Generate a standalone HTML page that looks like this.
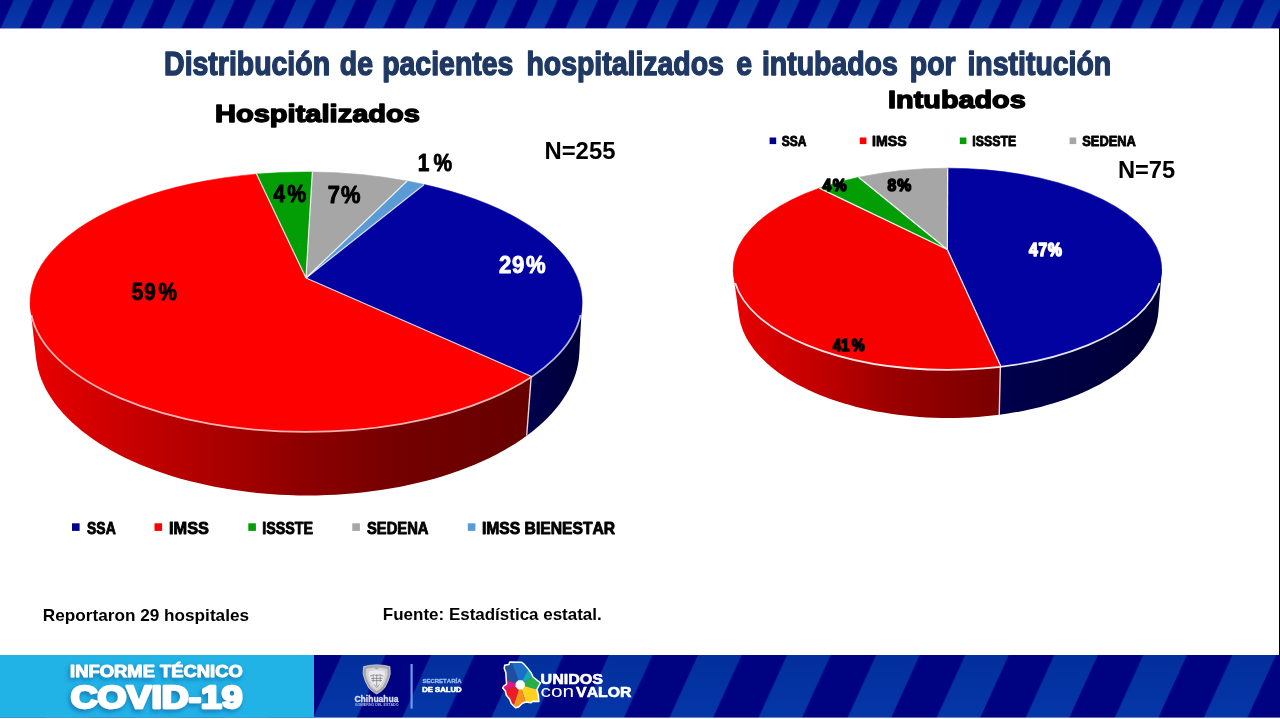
<!DOCTYPE html>
<html lang="es"><head><meta charset="utf-8"><title>Distribución de pacientes hospitalizados e intubados por institución</title>
<style>
html,body{margin:0;padding:0;background:#fff;}
body{width:1280px;height:719px;overflow:hidden;position:relative;font-family:"Liberation Sans",sans-serif;}
svg{position:absolute;left:0;top:0;display:block;font-family:"Liberation Sans",sans-serif;font-kerning:none}
text{white-space:pre;font-kerning:none}
</style></head><body>
<svg width="1280" height="719" viewBox="0 0 1280 719">
<defs>
<filter id="sh" x="-10%" y="-20%" width="120%" height="150%"><feDropShadow dx="-1.5" dy="2.5" stdDeviation="2.2" flood-color="#0a4a8a" flood-opacity="0.55"/></filter>
<linearGradient id="lg1" x1="0" y1="0" x2="0" y2="28" gradientUnits="userSpaceOnUse"><stop offset="0" stop-color="#03309e"/><stop offset="1" stop-color="#0a37ab"/></linearGradient>
<pattern id="st1" width="40.35" height="29" patternUnits="userSpaceOnUse" patternTransform="translate(0.7,0)">
<rect width="41" height="29" fill="#000084"/>
<path d="M0,28 L13,0 L32.4,0 L19.4,28Z M40.35,28 L53.35,0 L72.75,0 L59.75,28Z M-40.35,28 L-27.35,0 L-7.95,0 L-20.95,28Z" fill="url(#lg1)"/>
</pattern>
<linearGradient id="lg2" x1="0" y1="0" x2="0" y2="63" gradientUnits="userSpaceOnUse"><stop offset="0" stop-color="#022f9c"/><stop offset="1" stop-color="#0536a8"/></linearGradient>
<pattern id="st2" width="89.06" height="64" patternUnits="userSpaceOnUse" patternTransform="translate(313.1,655)">
<rect width="90" height="64" fill="#000381"/>
<path d="M0,63 L28.7,0 L72.3,0 L43.6,63Z M89.06,63 L117.76,0 L161.36,0 L132.66,63Z M-89.06,63 L-60.36,0 L-16.76,0 L-45.46,63Z" fill="url(#lg2)"/>
</pattern>
</defs>
<rect x="0" y="0" width="1280" height="28.4" fill="url(#st1)"/>
<rect x="1279" y="28" width="1" height="627" fill="#000"/>
<rect x="0" y="655" width="1280" height="62.6" fill="url(#st2)"/>
<rect x="0" y="655" width="314" height="62.6" fill="#21b2e6"/>

<text transform="translate(0,74.8) scale(0.8753,1)" font-size="32.5" font-weight="bold" fill="#1f3864" stroke="#1f3864" stroke-width="1.4" stroke-linejoin="round"><tspan x="187.49">Distribución</tspan> <tspan x="388.22">de</tspan> <tspan x="436.64">pacientes</tspan> <tspan x="601.41">hospitalizados</tspan> <tspan x="841.24">e</tspan> <tspan x="870.51">intubados</tspan> <tspan x="1039.45">por</tspan> <tspan x="1105.29">institución</tspan></text>
<text transform="translate(214.96,121.8) scale(1.2113,1)" font-size="24" font-weight="bold" fill="#000" stroke="#000" stroke-width="1.4" stroke-linejoin="round" >Hospitalizados</text>
<text transform="translate(888.07,108.1) scale(1.2011,1)" font-size="24" font-weight="bold" fill="#000" stroke="#000" stroke-width="1.4" stroke-linejoin="round" >Intubados</text>
<defs><linearGradient id="Lrg" x1="30" y1="0" x2="531" y2="0" gradientUnits="userSpaceOnUse"><stop offset="0" stop-color="#ee0000"/><stop offset="0.03" stop-color="#e40000"/><stop offset="0.14" stop-color="#d20000"/><stop offset="0.34" stop-color="#b00000"/><stop offset="0.54" stop-color="#8e0000"/><stop offset="0.74" stop-color="#740000"/><stop offset="1" stop-color="#670000"/></linearGradient><linearGradient id="Lbg" x1="527" y1="0" x2="582" y2="0" gradientUnits="userSpaceOnUse"><stop offset="0" stop-color="#00004e"/><stop offset="1" stop-color="#000036"/></linearGradient><path id="Lh" d="M30,302 30.2,297.5 30.7,292.9 31.5,288.4 32.7,283.9 34.2,279.4 36,275 38.2,270.6 40.7,266.2 43.5,261.8 46.6,257.5 50.1,253.3 53.9,249.1 57.9,245 62.3,241 67,237 71.9,233.1 77.2,229.3 82.7,225.6 88.5,222 94.6,218.4 100.9,215 107.5,211.7 114.3,208.5 121.3,205.4 128.6,202.4 136.1,199.6 143.8,196.8 151.7,194.2 159.7,191.8 168,189.4 176.4,187.2 185,185.2 193.7,183.2 202.6,181.5 211.6,179.8 220.7,178.4 229.9,177 239.2,175.9 248.6,174.8 258.1,174 267.6,173.3 277.2,172.7 286.7,172.3 296.4,172.1 306,172 315.6,172.1 325.3,172.3 334.8,172.7 344.4,173.3 353.9,174 363.4,174.8 372.8,175.9 382.1,177 391.3,178.4 400.4,179.8 409.4,181.5 418.3,183.2 427,185.2 435.6,187.2 444,189.4 452.3,191.8 460.3,194.2 468.2,196.8 475.9,199.6 483.4,202.4 490.7,205.4 497.7,208.5 504.5,211.7 511.1,215 517.4,218.4 523.5,222 529.3,225.6 534.8,229.3 540.1,233.1 545,237 549.7,241 554.1,245 558.1,249.1 561.9,253.3 565.4,257.5 568.5,261.8 571.3,266.2 573.8,270.6 576,275 577.8,279.4 579.3,283.9 580.5,288.4 581.3,292.9 581.8,297.5 582,302 581.8,306.5 579.3,354.1 578.8,359.2 578,364.3 576.9,369.4 575.4,374.4 573.6,379.5 571.4,384.4 569,389.4 566.2,394.3 563.1,399.1 559.7,403.9 556,408.6 552,413.2 547.7,417.8 543.1,422.2 538.2,426.6 533,430.9 527.6,435.1 521.8,439.2 515.9,443.2 509.6,447 503.2,450.8 496.4,454.4 489.5,457.9 482.3,461.2 475,464.4 467.4,467.5 459.6,470.5 451.6,473.2 443.5,475.9 435.2,478.4 426.7,480.7 418.1,482.8 409.4,484.8 400.5,486.7 391.6,488.3 382.5,489.8 373.3,491.1 364.1,492.3 354.7,493.3 345.4,494.1 335.9,494.7 326.5,495.1 317,495.4 307.5,495.5 298,495.4 288.5,495.1 279.1,494.7 269.6,494.1 260.3,493.3 250.9,492.3 241.7,491.1 232.5,489.8 223.4,488.3 214.5,486.7 205.6,484.8 196.9,482.8 188.3,480.7 179.8,478.4 171.5,475.9 163.4,473.2 155.4,470.5 147.6,467.5 140,464.4 132.7,461.2 125.5,457.9 118.6,454.4 111.8,450.8 105.4,447 99.1,443.2 93.2,439.2 87.4,435.1 82,430.9 76.8,426.6 71.9,422.2 67.3,417.8 63,413.2 59,408.6 55.3,403.9 51.9,399.1 48.8,394.3 46,389.4 43.6,384.4 41.4,379.5 39.6,374.4 38.1,369.4 37,364.3 36.2,359.2 30.7,311.1 30.2,306.5Z"/>
<clipPath id="Lclip"><path d="M544.7,199.1 L513.2,612.8 L1113.2,612.8 L1144.7,199.1Z"/></clipPath>
<clipPath id="LclipL"><path d="M545.3,199.1 L513.8,612.8 L-386.8,612.8 L-355.3,199.1Z"/></clipPath>
<clipPath id="Llow"><rect x="0" y="302" width="1280" height="400"/></clipPath>
</defs>
<g clip-path="url(#Llow)">
<use href="#Lh" fill="url(#Lrg)" clip-path="url(#LclipL)"/>
<use href="#Lh" fill="url(#Lbg)" clip-path="url(#Lclip)"/>
</g>
<line x1="531.2" y1="376.4" x2="526.7" y2="435.5" stroke="#f3e8ee" stroke-width="1.4" opacity="0.92"/>
<path d="M306.0,278.0 L532.0,376.7 A276,130 0 1 1 256.5,174.1 Z" fill="#fe0000" stroke="#fe0000" stroke-width="0.6"/>
<path d="M306.0,278.0 L256.5,174.1 A276,130 0 0 1 312.4,172.0 Z" fill="#039d06" stroke="#039d06" stroke-width="0.6"/>
<path d="M306.0,278.0 L312.4,172.0 A276,130 0 0 1 407.1,181.0 Z" fill="#a6a6a6" stroke="#a6a6a6" stroke-width="0.6"/>
<path d="M306.0,278.0 L407.1,181.0 A276,130 0 0 1 424.2,184.5 Z" fill="#5b9bd5" stroke="#5b9bd5" stroke-width="0.6"/>
<path d="M306.0,278.0 L424.2,184.5 A276,130 0 0 1 532.0,376.7 Z" fill="#0202a0" stroke="#0202a0" stroke-width="0.6"/>
<line x1="306" y1="278" x2="532.0" y2="376.7" stroke="#fff" stroke-width="1.2" opacity="0.85"/>
<line x1="306" y1="278" x2="256.5" y2="174.1" stroke="#fff" stroke-width="1.2" opacity="0.85"/>
<line x1="306" y1="278" x2="312.4" y2="172.0" stroke="#fff" stroke-width="1.2" opacity="0.85"/>
<line x1="306" y1="278" x2="407.1" y2="181.0" stroke="#fff" stroke-width="1.2" opacity="0.85"/>
<line x1="306" y1="278" x2="424.2" y2="184.5" stroke="#fff" stroke-width="1.2" opacity="0.85"/>
<path d="M31.4,315.0 A276,130 0 0 0 580.6,315.0" fill="none" stroke="#fff" stroke-width="1.7" opacity="0.7"/>
<defs><linearGradient id="Rrg" x1="733" y1="0" x2="1000" y2="0" gradientUnits="userSpaceOnUse"><stop offset="0" stop-color="#ee0000"/><stop offset="0.05" stop-color="#e00000"/><stop offset="0.3" stop-color="#c40000"/><stop offset="0.6" stop-color="#9a0000"/><stop offset="1" stop-color="#7a0000"/></linearGradient><linearGradient id="Rbg" x1="998" y1="0" x2="1162" y2="0" gradientUnits="userSpaceOnUse"><stop offset="0" stop-color="#00004c"/><stop offset="1" stop-color="#000034"/></linearGradient><path id="Rh" d="M733.1,269 733.2,265.5 733.6,262 734.3,258.5 735.2,255 736.4,251.5 737.8,248 739.5,244.6 741.4,241.2 743.6,237.9 746,234.5 748.7,231.2 751.6,228 754.8,224.8 758.2,221.7 761.8,218.6 765.7,215.6 769.7,212.6 774,209.8 778.5,206.9 783.2,204.2 788.1,201.6 793.2,199 798.5,196.5 804,194.1 809.7,191.8 815.5,189.6 821.4,187.5 827.6,185.4 833.8,183.5 840.2,181.7 846.8,180 853.5,178.4 860.2,176.9 867.1,175.5 874.1,174.3 881.2,173.1 888.3,172.1 895.6,171.2 902.8,170.4 910.2,169.7 917.6,169.2 925,168.8 932.5,168.4 939.9,168.3 947.4,168.2 954.9,168.3 962.3,168.4 969.8,168.8 977.2,169.2 984.6,169.7 992,170.4 999.2,171.2 1006.5,172.1 1013.6,173.1 1020.7,174.3 1027.7,175.5 1034.6,176.9 1041.3,178.4 1048,180 1054.5,181.7 1061,183.5 1067.2,185.4 1073.4,187.5 1079.3,189.6 1085.1,191.8 1090.8,194.1 1096.3,196.5 1101.6,199 1106.7,201.6 1111.6,204.2 1116.3,206.9 1120.8,209.8 1125.1,212.6 1129.1,215.6 1133,218.6 1136.6,221.7 1140,224.8 1143.2,228 1146.1,231.2 1148.8,234.5 1151.2,237.9 1153.4,241.2 1155.3,244.6 1157,248 1158.4,251.5 1159.6,255 1160.5,258.5 1161.2,262 1161.6,265.5 1161.7,269 1161.6,272.5 1158.4,311.8 1158,315.7 1157.3,319.5 1156.5,323.3 1155.3,327.1 1153.9,330.9 1152.3,334.6 1150.4,338.3 1148.2,342 1145.8,345.6 1143.2,349.2 1140.3,352.7 1137.2,356.2 1133.9,359.6 1130.4,363 1126.6,366.3 1122.6,369.5 1118.4,372.7 1114,375.7 1109.4,378.7 1104.6,381.6 1099.6,384.4 1094.4,387.1 1089,389.7 1083.5,392.3 1077.8,394.7 1071.9,397 1065.9,399.2 1059.8,401.3 1053.5,403.3 1047.1,405.1 1040.6,406.9 1033.9,408.5 1027.2,410 1020.3,411.4 1013.4,412.6 1006.4,413.7 999.3,414.7 992.2,415.6 985,416.3 977.7,416.9 970.5,417.4 963.1,417.7 955.8,417.9 948.5,418 941.2,417.9 933.9,417.7 926.5,417.4 919.3,416.9 912,416.3 904.8,415.6 897.7,414.7 890.6,413.7 883.6,412.6 876.7,411.4 869.8,410 863.1,408.5 856.4,406.9 849.9,405.1 843.5,403.3 837.2,401.3 831.1,399.2 825.1,397 819.2,394.7 813.5,392.3 808,389.7 802.6,387.1 797.4,384.4 792.4,381.6 787.6,378.7 783,375.7 778.6,372.7 774.4,369.5 770.4,366.3 766.6,363 763.1,359.6 759.8,356.2 756.7,352.7 753.8,349.2 751.2,345.6 748.8,342 746.6,338.3 744.7,334.6 743.1,330.9 741.7,327.1 740.5,323.3 739.7,319.5 739,315.7 733.6,276 733.2,272.5Z"/>
<clipPath id="Rclip"><path d="M1004.0,216.9 L995.6,564.1 L1595.6,564.1 L1604.0,216.9Z"/></clipPath>
<clipPath id="RclipL"><path d="M1004.6,216.9 L996.2,564.1 L95.6,564.1 L104.0,216.9Z"/></clipPath>
<clipPath id="Rlow"><rect x="0" y="269" width="1280" height="400"/></clipPath>
</defs>
<g clip-path="url(#Rlow)">
<use href="#Rh" fill="url(#Rrg)" clip-path="url(#RclipL)"/>
<use href="#Rh" fill="url(#Rbg)" clip-path="url(#Rclip)"/>
</g>
<line x1="1000.4" y1="365.7" x2="999.2" y2="415.3" stroke="#f3e8ee" stroke-width="1.4" opacity="0.92"/>
<path d="M947.3,249.5 L1000.9,366.6 A214.3,100.8 0 0 1 819.3,188.2 Z" fill="#f60000" stroke="#f60000" stroke-width="0.6"/>
<path d="M947.3,249.5 L819.3,188.2 A214.3,100.8 0 0 1 858.6,177.3 Z" fill="#039d06" stroke="#039d06" stroke-width="0.6"/>
<path d="M947.3,249.5 L858.6,177.3 A214.3,100.8 0 0 1 947.7,168.2 Z" fill="#a6a6a6" stroke="#a6a6a6" stroke-width="0.6"/>
<path d="M947.3,249.5 L947.7,168.2 A214.3,100.8 0 0 1 1000.9,366.6 Z" fill="#0202a0" stroke="#0202a0" stroke-width="0.6"/>
<line x1="947.3" y1="249.5" x2="1000.9" y2="366.6" stroke="#fff" stroke-width="1.3" opacity="0.95"/>
<line x1="947.3" y1="249.5" x2="819.3" y2="188.2" stroke="#fff" stroke-width="1.3" opacity="0.95"/>
<line x1="947.3" y1="249.5" x2="858.6" y2="177.3" stroke="#fff" stroke-width="1.3" opacity="0.95"/>
<line x1="947.3" y1="249.5" x2="947.7" y2="168.2" stroke="#fff" stroke-width="1.3" opacity="0.95"/>
<path d="M735.2,283.1 A214.3,100.8 0 0 0 1159.6,283.1" fill="none" stroke="#fff" stroke-width="1.7" opacity="0.9"/>
<text transform="translate(0,299.55) scale(0.8815,1)" x="149.42 163.66 179.94" font-size="23.45" font-weight="bold" fill="#000" stroke="#000" stroke-width="0.9" stroke-linejoin="round">59%</text>
<text transform="translate(0,202.25) scale(0.9056,1)" x="301.77 317.32" font-size="23.45" font-weight="bold" fill="#000" stroke="#000" stroke-width="0.9" stroke-linejoin="round">4%</text>
<text transform="translate(0,203.15) scale(0.9281,1)" x="353.06 367.40" font-size="23.6" font-weight="bold" fill="#000" stroke="#000" stroke-width="0.9" stroke-linejoin="round">7%</text>
<text transform="translate(0,171.15) scale(0.8697,1)" x="480.44 498.38" font-size="24.03" font-weight="bold" fill="#000" stroke="#000" stroke-width="0.9" stroke-linejoin="round">1%</text>
<text transform="translate(0,272.75) scale(0.9209,1)" x="541.94 555.96 571.12" font-size="24.03" font-weight="bold" fill="#fff" stroke="#fff" stroke-width="0.9" stroke-linejoin="round">29%</text>
<text transform="translate(544.40,158.8) scale(0.9954,1)" font-size="24" font-weight="bold" fill="#000" >N=255</text>
<text transform="translate(0,256.00) scale(0.8912,1)" x="1154.59 1165.40 1176.00" font-size="17.55" font-weight="bold" fill="#fff" stroke="#fff" stroke-width="1.6" stroke-linejoin="round">47%</text>
<text transform="translate(0,351.00) scale(0.8742,1)" x="952.91 962.31 974.27" font-size="16.55" font-weight="bold" fill="#000" stroke="#000" stroke-width="1.6" stroke-linejoin="round">41%</text>
<text transform="translate(0,191.20) scale(0.9096,1)" x="904.56 915.61" font-size="17.12" font-weight="bold" fill="#000" stroke="#000" stroke-width="1.6" stroke-linejoin="round">4%</text>
<text transform="translate(0,190.50) scale(0.9332,1)" x="950.91 961.37" font-size="16.83" font-weight="bold" fill="#000" stroke="#000" stroke-width="1.6" stroke-linejoin="round">8%</text>
<text transform="translate(1117.91,177.8) scale(0.9880,1)" font-size="24" font-weight="bold" fill="#000" >N=75</text>
<rect x="72" y="523.3" width="7.6" height="7.6" fill="#00008f"/><text transform="translate(87.05,533.85) scale(0.8013,1)" font-size="17.4" font-weight="bold" fill="#000" stroke="#000" stroke-width="0.9" stroke-linejoin="round" >SSA</text>
<rect x="154.5" y="523.3" width="7.6" height="7.6" fill="#fe0000"/><text transform="translate(169.06,533.85) scale(0.9387,1)" font-size="17.4" font-weight="bold" fill="#000" stroke="#000" stroke-width="0.9" stroke-linejoin="round" >IMSS</text>
<rect x="248.3" y="523.3" width="7.6" height="7.6" fill="#039d06"/><text transform="translate(262.19,533.85) scale(0.8228,1)" font-size="17.4" font-weight="bold" fill="#000" stroke="#000" stroke-width="0.9" stroke-linejoin="round" >ISSSTE</text>
<rect x="352.3" y="523.3" width="7.6" height="7.6" fill="#a6a6a6"/><text transform="translate(367.02,533.85) scale(0.8483,1)" font-size="17.4" font-weight="bold" fill="#000" stroke="#000" stroke-width="0.9" stroke-linejoin="round" >SEDENA</text>
<rect x="467.8" y="523.3" width="7.6" height="7.6" fill="#5b9bd5"/><text transform="translate(481.90,533.85) scale(0.9017,1)" font-size="17.4" font-weight="bold" fill="#000" stroke="#000" stroke-width="0.9" stroke-linejoin="round" >IMSS BIENESTAR</text>
<rect x="769.6" y="137.5" width="6.6" height="6.6" fill="#00008f"/><text transform="translate(781.70,145.55) scale(0.7770,1)" font-size="15.5" font-weight="bold" fill="#000" stroke="#000" stroke-width="0.9" stroke-linejoin="round" >SSA</text>
<rect x="859.8" y="137.5" width="6.6" height="6.6" fill="#fe0000"/><text transform="translate(872.10,145.55) scale(0.9130,1)" font-size="15.5" font-weight="bold" fill="#000" stroke="#000" stroke-width="0.9" stroke-linejoin="round" >IMSS</text>
<rect x="959.8" y="137.5" width="6.6" height="6.6" fill="#039d06"/><text transform="translate(972.22,145.55) scale(0.7983,1)" font-size="15.5" font-weight="bold" fill="#000" stroke="#000" stroke-width="0.9" stroke-linejoin="round" >ISSSTE</text>
<rect x="1069.6" y="137.5" width="6.6" height="6.6" fill="#a6a6a6"/><text transform="translate(1082.28,145.55) scale(0.8299,1)" font-size="15.5" font-weight="bold" fill="#000" stroke="#000" stroke-width="0.9" stroke-linejoin="round" >SEDENA</text>
<text transform="translate(42.85,621.2) scale(1.0876,1)" font-size="15.8" font-weight="bold" fill="#000" >Reportaron 29 hospitales</text>
<text transform="translate(382.86,619.6) scale(1.0756,1)" font-size="15.8" font-weight="bold" fill="#000" >Fuente: Estadística estatal.</text>
<g filter="url(#sh)">
<text transform="translate(70.12,676.5) scale(1.1792,1)" font-size="15.6" font-weight="bold" fill="#fff" stroke="#fff" stroke-width="0.9" stroke-linejoin="round" >INFORME TÉCNICO</text>
<text transform="translate(70.67,707.5) scale(1.1648,1)" font-size="32" font-weight="bold" fill="#fff" stroke="#fff" stroke-width="2.6" stroke-linejoin="round" >COVID-19</text>
</g>
<g>
<path d="M363.47,666.61 Q370.08,664.87 376.69,664.87 Q383.29,664.87 389.90,666.61 L390.25,673.91 Q388.86,680.86 384.68,687.82 Q381.29,691.85 376.69,694.08 Q372.09,691.85 368.69,687.82 Q364.52,680.86 363.13,673.91 Z" fill="#a7a7ab" stroke="#cdcfe6" stroke-width="0.8"/>
<path d="M366.12,668.99 Q371.40,667.59 376.69,667.59 Q381.97,667.59 387.26,668.99 L387.54,674.83 Q386.43,680.39 383.09,685.95 Q380.49,689.36 376.69,690.96 Q372.89,689.36 370.29,685.95 Q366.95,680.39 365.84,674.83 Z" fill="#d2d2d5" />
<path d="M368.76,671.36 Q372.73,670.32 376.69,670.32 Q380.66,670.32 384.62,671.36 L384.83,675.74 Q383.99,679.92 381.49,684.09 Q379.69,686.87 376.69,687.85 Q373.69,686.87 371.89,684.09 Q369.39,679.92 368.56,675.74 Z" fill="#ebebed" />
<path d="M370,676.2 q3.3,-2.6 6.7,-0.6 q3.4,-2 6.7,0.6 M371,678.4 h11.6 M371.6,680.6 h10.4 M373.2,675 v7.2 M376.7,674.4 v11.5 M380.2,675 v7.2 M374,684.2 l2.7,3.2 l2.7,-3.2" stroke="#6b6b72" stroke-width="0.9" fill="none" opacity="0.7"/>
<path d="M375.3,668.4 h2.8" stroke="#77777c" stroke-width="0.8" fill="none" opacity="0.8"/>
</g>
<text transform="translate(354.42,701.8) scale(1.0172,1)" font-size="8.4" font-weight="bold" fill="#d8def6" stroke="#d8def6" stroke-width="0.35" stroke-linejoin="round" >Chihuahua</text>
<text transform="translate(354.65,705.8) scale(1.2498,1)" font-size="2.9" font-weight="bold" fill="#aeb9ea" >GOBIERNO DEL ESTADO</text>
<rect x="410.5" y="664" width="2.2" height="44.6" fill="#6c9bf0"/>
<text transform="translate(422.38,683.1) scale(1.0229,1)" font-size="5.9" font-weight="bold" fill="#9cbcf4" stroke="#9cbcf4" stroke-width="0.3" stroke-linejoin="round" >SECRETARÍA</text>
<text transform="translate(422.16,691.9) scale(1.1887,1)" font-size="6.5" font-weight="bold" fill="#fff" stroke="#fff" stroke-width="0.55" stroke-linejoin="round" >DE SALUD</text>
<defs><clipPath id="mapc"><path d="M504.62,665.35 508.90,664.57 509.68,662.07 521.36,662.23 523.70,663.79 528.76,669.63 531.49,673.52 533.05,677.03 540.45,682.87 536.94,689.49 538.50,695.72 538.89,701.56 533.05,701.17 531.10,702.73 525.65,701.95 522.14,703.51 518.64,707.01 515.52,707.79 511.24,703.51 509.68,699.22 506.18,694.94 505.40,691.05 502.67,687.93 503.84,685.98 506.57,684.04 506.18,678.59 505.79,672.36 504.23,668.46Z"/></clipPath></defs>
<g clip-path="url(#mapc)">
<path d="M504.62,665.35 508.90,664.57 509.68,662.07 521.36,662.23 523.70,663.79 528.76,669.63 531.49,673.52 533.05,677.03 540.45,682.87 536.94,689.49 538.50,695.72 538.89,701.56 533.05,701.17 531.10,702.73 525.65,701.95 522.14,703.51 518.64,707.01 515.52,707.79 511.24,703.51 509.68,699.22 506.18,694.94 505.40,691.05 502.67,687.93 503.84,685.98 506.57,684.04 506.18,678.59 505.79,672.36 504.23,668.46Z" fill="#1f4f9e"/>
<path d="M520.20,684.82 L501.35,635.13 L520.78,625.24 L539.90,647.12Z" fill="#1a6fc6"/>
<path d="M520.20,684.82 L539.90,647.12 L555.24,645.10 L551.89,664.26Z" fill="#19a7b4"/>
<path d="M520.20,684.82 L551.89,664.26 L570.43,678.98 L562.17,696.81Z" fill="#25ae4a"/>
<path d="M520.20,684.82 L562.17,696.81 L558.16,722.20 L533.90,727.65Z" fill="#ffd21f"/>
<path d="M520.20,684.82 L533.90,727.65 L519.61,745.56 L505.63,731.08Z" fill="#f7931d"/>
<path d="M520.20,684.82 L505.63,731.08 L482.81,725.70 L479.93,698.52Z" fill="#ee1c25"/>
<path d="M520.20,684.82 L479.93,698.52 L467.63,685.98 L483.36,672.82Z" fill="#e0177f"/>
<path d="M520.20,684.82 L483.36,672.82 L482.23,642.76 L501.35,635.13Z" fill="#1f4f9e"/>
</g>
<path d="M504.62,665.35 508.90,664.57 509.68,662.07 521.36,662.23 523.70,663.79 528.76,669.63 531.49,673.52 533.05,677.03 540.45,682.87 536.94,689.49 538.50,695.72 538.89,701.56 533.05,701.17 531.10,702.73 525.65,701.95 522.14,703.51 518.64,707.01 515.52,707.79 511.24,703.51 509.68,699.22 506.18,694.94 505.40,691.05 502.67,687.93 503.84,685.98 506.57,684.04 506.18,678.59 505.79,672.36 504.23,668.46Z" fill="none" stroke="#fff" stroke-width="1.5" stroke-linejoin="round"/>
<polygon points="524.82,686.73 522.11,689.44 518.28,689.44 515.58,686.73 515.58,682.90 518.28,680.20 522.11,680.20 524.82,682.90" fill="#fff"/>
<text transform="translate(540.53,683.6) scale(1.1177,1)" font-size="14.4" font-weight="bold" fill="#fff" stroke="#fff" stroke-width="0.6" stroke-linejoin="round" >UNIDOS</text>
<text transform="translate(540.51,697.2) scale(1.2570,1)" font-size="16.6" font-weight="normal" fill="#fff" >con</text>
<text transform="translate(576.09,697.3) scale(1.0848,1)" font-size="14.6" font-weight="bold" fill="#fff" stroke="#fff" stroke-width="0.6" stroke-linejoin="round" >VALOR</text>
</svg></body></html>
